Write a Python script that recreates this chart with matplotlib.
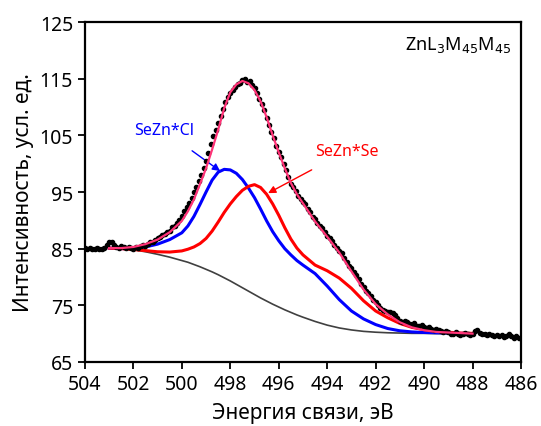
import numpy as np
import matplotlib
matplotlib.use("Agg")
import matplotlib.pyplot as plt

plt.rcParams['font.family'] = ['Noto Sans', 'DejaVu Sans']

# ---- experimental data (binding energy, eV / intensity, a.u.) ----
exp_energy = np.round(np.arange(504.0, 485.95, -0.1), 1)
exp_intensity = [
    85.1, 85.0, 85.1, 84.9, 85.0, 85.1, 84.9, 85.0, 85.2, 85.6,
    86.1, 86.2, 85.7, 85.3, 85.2, 85.4, 85.3, 85.1, 85.3, 85.2,
    85.0, 85.3, 85.1, 85.4, 85.6, 85.5, 85.9, 86.2, 86.1, 86.5,
    86.8, 87.0, 87.4, 87.5, 88.0, 88.2, 88.8, 89.0, 89.6, 90.0,
    90.8, 91.6, 92.3, 93.0, 94.0, 95.0, 95.8, 96.9, 98.0, 99.3,
    100.4, 101.8, 103.4, 104.8, 106.0, 107.2, 108.4, 109.6, 110.9, 111.8,
    112.5, 113.0, 113.6, 114.1, 114.3, 114.7, 114.9, 114.5, 114.6, 113.9,
    113.3, 112.4, 111.5, 110.6, 109.4, 108.0, 106.8, 105.6, 104.5, 103.2,
    102.0, 101.2, 100.0, 98.8, 97.6, 96.4, 95.8, 95.2, 94.3, 93.8,
    93.2, 92.8, 92.0, 91.5, 90.6, 90.2, 89.5, 89.0, 88.6, 87.9,
    87.3, 86.9, 86.3, 85.6, 85.2, 84.6, 84.2, 83.4, 82.6, 82.0,
    81.5, 80.8, 80.4, 79.6, 78.8, 78.2, 77.6, 77.2, 76.6, 76.0,
    75.5, 75.0, 74.6, 74.2, 74.0, 73.8, 73.9, 73.6, 73.2, 72.8,
    72.3, 72.1, 72.3, 72.0, 71.7, 71.6, 71.8, 71.4, 71.3, 71.5,
    71.2, 71.0, 71.2, 70.9, 70.7, 70.8, 70.6, 70.5, 70.2, 70.4,
    70.3, 70.0, 69.9, 70.2, 70.0, 69.8, 70.0, 70.1, 69.9, 69.8,
    70.0, 70.4, 70.6, 70.1, 69.9, 70.0, 69.8, 69.9, 69.7, 69.5,
    69.8, 69.6, 69.7, 69.4, 69.5, 69.9, 69.6, 69.3, 69.6, 69.3,
    69.2,
]

# ---- fit curves ----
fit_energy = [503.0, 502.5, 502.0, 501.5, 501.0, 500.5, 500.0, 499.75, 499.5,
              499.25, 499.0, 498.75, 498.5, 498.25, 498.0, 497.75, 497.5,
              497.25, 497.0, 496.75, 496.5, 496.25, 496.0, 495.75, 495.5,
              495.25, 495.0, 494.5, 494.0, 493.5, 493.0, 492.5, 492.0,
              491.5, 491.0, 490.5, 490.0, 489.5, 489.0, 488.5, 488.0]

envelope = [85.1, 85.1, 85.3, 85.8, 86.6, 87.9, 89.9, 91.6, 93.7,
            96.4, 99.2, 102.5, 106.0, 109.8, 112.6, 114.0, 114.6,
            114.2, 113.0, 111.0, 108.2, 105.0, 102.0, 99.2, 96.6,
            94.6, 93.0, 89.8, 87.1, 84.3, 81.0, 77.8, 75.2,
            73.4, 72.0, 71.1, 70.6, 70.3, 70.2, 70.1, 70.0]

sezn_cl = [85.1, 85.0, 85.05, 85.3, 85.8, 86.6, 87.8, 89.0, 90.7,
           92.8, 95.0, 97.1, 98.5, 99.0, 98.9, 98.3, 97.2,
           95.7, 94.0, 92.0, 89.9, 88.0, 86.4, 85.0, 83.9,
           82.9, 82.1, 80.6, 78.4, 76.0, 74.0, 72.6, 71.6,
           70.9, 70.5, 70.3, 70.2, 70.15, 70.1, 70.05, 70.0]

sezn_se = [85.1, 85.0, 84.85, 84.65, 84.45, 84.4, 84.6, 84.9, 85.3,
           85.9, 86.8, 88.1, 89.7, 91.4, 92.9, 94.2, 95.3,
           96.0, 96.3, 95.8, 94.6, 92.9, 90.9, 88.7, 86.7,
           85.1, 83.9, 82.1, 81.1, 79.8, 78.0, 75.8, 74.0,
           72.8, 71.8, 71.1, 70.7, 70.4, 70.25, 70.1, 70.05]

background = [85.1, 85.0, 84.8, 84.45, 84.0, 83.5, 82.9, 82.6, 82.2,
              81.8, 81.35, 80.9, 80.4, 79.85, 79.3, 78.7, 78.1,
              77.5, 76.9, 76.3, 75.75, 75.2, 74.7, 74.2, 73.75,
              73.3, 72.9, 72.15, 71.5, 71.0, 70.65, 70.4, 70.25,
              70.15, 70.1, 70.05, 70.05, 70.0, 70.0, 70.0, 70.0]

x_ticks = [504, 502, 500, 498, 496, 494, 492, 490, 488, 486]
y_ticks = [65, 75, 85, 95, 105, 115, 125]

fig = plt.figure(figsize=(5.41, 4.27), dpi=100)
ax = fig.add_axes([0.157, 0.150, 0.806, 0.796])

ax.plot(fit_energy, background, color='#404040', lw=1.2, zorder=2)
ax.plot(fit_energy, sezn_cl, color='#0000ff', lw=2.2, zorder=3)
ax.plot(fit_energy, sezn_se, color='#ff0000', lw=2.2, zorder=3)
ax.plot(exp_energy, exp_intensity, linestyle='none', marker='o',
        markersize=3.0, color='black', zorder=4)
ax.plot(fit_energy, envelope, color='#ff3377', lw=1.6, zorder=5)

ax.set_xlim(504, 486)
ax.set_ylim(65, 125)
ax.set_xticks(x_ticks)
ax.set_yticks(y_ticks)
ax.tick_params(axis='both', direction='out', length=5, width=1.3,
               labelsize=14, top=False, right=False, colors='black')
for s in ax.spines.values():
    s.set_linewidth(1.6)

ax.set_xlabel('Энергия связи, эВ', fontsize=15, labelpad=6)
ax.set_ylabel('Интенсивность, усл. ед.', fontsize=15, labelpad=4)

ax.text(0.977, 0.935, r'ZnL$_3$M$_{45}$M$_{45}$', transform=ax.transAxes,
        ha='right', va='center', fontsize=13)

ax.annotate('SeZn*Cl', xy=(498.42, 98.7), xytext=(500.75, 105.9),
            color='#0000ff', fontsize=11.5, ha='center', va='center',
            arrowprops=dict(arrowstyle='-|>', color='#0000ff', lw=1.0,
                            mutation_scale=11, shrinkA=12, shrinkB=0))
ax.annotate('SeZn*Se', xy=(496.44, 94.8), xytext=(493.2, 102.2),
            color='#ff0000', fontsize=11.5, ha='center', va='center',
            arrowprops=dict(arrowstyle='-|>', color='#ff0000', lw=1.0,
                            mutation_scale=11, shrinkA=12, shrinkB=0))

fig.savefig('out.png', dpi=100)
